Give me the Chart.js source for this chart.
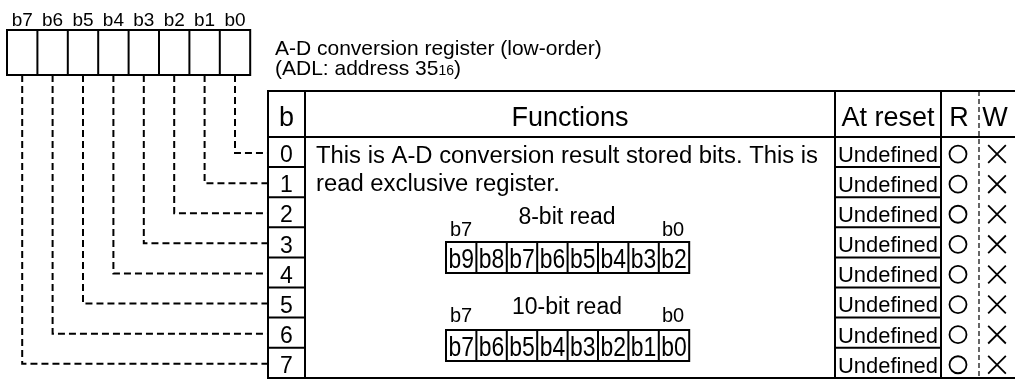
<!DOCTYPE html>
<html>
<head>
<meta charset="utf-8">
<script src="https://cdn.jsdelivr.net/npm/chart.js@4.4.0/dist/chart.umd.min.js"></script>
<style>
html, body { margin: 0; padding: 0; background: #fff; }
canvas { display: block; }
</style>
</head>
<body>
<canvas id="regChart" width="1015" height="379"></canvas>
<script>
// REGISTER DATA
const registerBits = ['b7', 'b6', 'b5', 'b4', 'b3', 'b2', 'b1', 'b0'];
const bitNumbers = [0, 1, 2, 3, 4, 5, 6, 7];
const resetValues = ['Undefined', 'Undefined', 'Undefined', 'Undefined', 'Undefined', 'Undefined', 'Undefined', 'Undefined'];
const readAccess = ['○', '○', '○', '○', '○', '○', '○', '○'];
const writeAccess = ['×', '×', '×', '×', '×', '×', '×', '×'];
const headerLabels = ['b', 'Functions', 'At reset', 'R', 'W'];
const titleLine = 'A-D conversion register (low-order)';
const addressLine = ['(ADL: address 35', '16', ')'];
const functionLines = ['This is A-D conversion result stored bits. This is', 'read exclusive register.'];
const read8Title = '8-bit read';
const read8Bits = ['b9', 'b8', 'b7', 'b6', 'b5', 'b4', 'b3', 'b2'];
const read10Title = '10-bit read';
const read10Bits = ['b7', 'b6', 'b5', 'b4', 'b3', 'b2', 'b1', 'b0'];
const readEnds = ['b7', 'b0'];

// layout (in axis units, 1 unit = 1 px)
const L = {
    regLeft: 7, regTop: 30, regBottom: 75, cellW: 30.4,
    tblLeft: 268, tblTop: 91, headBottom: 137, tblBottom: 378, rowH: 30.1, tblRight: 1015,
    colB: 305, colFunc: 835, colReset: 941, colRW: 979,
    rX: 958, wX: 997,
    boxLeft: 446, box8Top: 242, box10Top: 330, boxH: 31, boxCellW: 30.4
};
const FONT = '"Liberation Sans", Arial, sans-serif';

function rowMid(n) { return L.headBottom + L.rowH * (n + 0.5); }
function bitX(name) { return L.regLeft + L.cellW * (registerBits.indexOf(name) + 0.5); }

// dashed leaders from register cells to table rows
const leaderSets = registerBits.map(name => {
    const n = parseInt(name.slice(1));
    const x = bitX(name);
    const y = rowMid(n) + 1;
    return {
        type: 'line',
        data: [{x: x, y: L.regBottom}, {x: x, y: y}, {x: L.tblLeft, y: y}],
        borderColor: '#000',
        borderWidth: 2,
        borderDash: [7, 4],
        pointRadius: 0,
        tension: 0,
        fill: false
    };
});

function markStyle(s) { return s === '○' ? 'circle' : 'crossRot'; }

const readSet = {
    type: 'scatter',
    data: bitNumbers.map(n => ({x: L.rX, y: rowMid(n) + 2})),
    pointStyle: readAccess.map(markStyle),
    pointRadius: 8.5,
    pointBorderColor: '#000',
    pointBackgroundColor: 'rgba(0,0,0,0)',
    pointBorderWidth: 1.8
};
const writeSet = {
    type: 'scatter',
    data: bitNumbers.map(n => ({x: L.wX, y: rowMid(n) + 2})),
    pointStyle: writeAccess.map(markStyle),
    pointRadius: 12.5,
    pointBorderColor: '#000',
    pointBackgroundColor: 'rgba(0,0,0,0)',
    pointBorderWidth: 1.8
};

function drawText(ctx, str, x, yMid, size, align, sx) {
    ctx.save();
    ctx.font = size + 'px ' + FONT;
    ctx.textBaseline = 'alphabetic';
    ctx.textAlign = align || 'left';
    ctx.fillStyle = '#000';
    ctx.translate(x, yMid + size * 0.358);
    ctx.scale(sx || 1, 1);
    ctx.fillText(str, 0, 0);
    ctx.restore();
}

function fitScale(ctx, str, size, width) {
    ctx.font = size + 'px ' + FONT;
    return width / ctx.measureText(str).width;
}

// TABLE PLUGIN
const tablePlugin = {
    id: 'registerTable',
    beforeDatasetsDraw(chart) {
        const ctx = chart.ctx;
        const sx = v => chart.scales.x.getPixelForValue(v);
        const sy = v => chart.scales.y.getPixelForValue(v);
        const line = (x1, y1, x2, y2, w, dash) => {
            ctx.save();
            ctx.strokeStyle = '#000';
            ctx.lineWidth = w;
            ctx.setLineDash(dash || []);
            ctx.beginPath();
            ctx.moveTo(sx(x1), sy(y1));
            ctx.lineTo(sx(x2), sy(y2));
            ctx.stroke();
            ctx.restore();
        };
        const box = (x1, y1, x2, y2) => {
            ctx.save();
            ctx.lineWidth = 2;
            ctx.strokeStyle = '#000';
            ctx.strokeRect(sx(x1), sy(y1), sx(x2) - sx(x1), sy(y2) - sy(y1));
            ctx.restore();
        };

        // register box
        box(L.regLeft, L.regTop, L.regLeft + L.cellW * 8, L.regBottom);
        for (let i = 1; i < registerBits.length; i++) {
            const x = L.regLeft + L.cellW * i;
            line(x, L.regTop, x, L.regBottom, 2);
        }
        registerBits.forEach(name => drawText(ctx, name, sx(bitX(name)), sy(19), 19, 'center'));

        // title
        drawText(ctx, titleLine, sx(275), sy(47), 21);
        ctx.font = '21px ' + FONT;
        const w1 = ctx.measureText(addressLine[0]).width;
        drawText(ctx, addressLine[0], sx(275), sy(67), 21);
        ctx.font = '14px ' + FONT;
        const w2 = ctx.measureText(addressLine[1]).width;
        drawText(ctx, addressLine[1], sx(275) + w1, sy(70), 14);
        drawText(ctx, addressLine[2], sx(275) + w1 + w2, sy(67), 21);

        // table frame
        line(L.tblLeft - 1, L.tblTop, L.tblRight, L.tblTop, 2);
        line(L.tblLeft - 1, L.headBottom, L.tblRight, L.headBottom, 2);
        line(L.tblLeft - 1, L.tblBottom, L.tblRight, L.tblBottom, 2);
        [L.tblLeft, L.colB, L.colFunc, L.colReset].forEach(x => line(x, L.tblTop, x, L.tblBottom, 2));
        line(L.colRW, L.tblTop, L.colRW, L.tblBottom, 1.2, [5, 3]);
        for (let n = 1; n < bitNumbers.length; n++) {
            const y = L.headBottom + L.rowH * n;
            line(L.tblLeft, y, L.colB, y, 2);
            line(L.colFunc, y, L.colReset, y, 2);
        }

        // headers
        const headMid = 116;
        const headX = [(L.tblLeft + L.colB) / 2, (L.colB + L.colFunc) / 2, (L.colFunc + L.colReset) / 2, (L.colReset + L.colRW) / 2 - 1, (L.colRW + L.tblRight) / 2 - 2];
        headerLabels.forEach((h, i) => drawText(ctx, h, sx(headX[i]), sy(headMid), 27, 'center'));

        // rows
        bitNumbers.forEach(n => {
            drawText(ctx, String(n), sx((L.tblLeft + L.colB) / 2), sy(rowMid(n) + 2), 23, 'center');
            const k = fitScale(ctx, resetValues[n], 22, 100);
            drawText(ctx, resetValues[n], sx(L.colFunc + 3), sy(rowMid(n) + 2), 22, 'left', k);
        });

        // functions text
        const fk = fitScale(ctx, functionLines[0], 23, 502);
        drawText(ctx, functionLines[0], sx(316), sy(155), 23, 'left', fk);
        drawText(ctx, functionLines[1], sx(316), sy(183), 23, 'left', fk);

        // read layouts
        [[read8Title, read8Bits, L.box8Top, 216, 229], [read10Title, read10Bits, L.box10Top, 306, 315]].forEach(r => {
            const [title, bits, top, titleMid, endMid] = r;
            drawText(ctx, title, sx(567), sy(titleMid), 23, 'center');
            drawText(ctx, readEnds[0], sx(450), sy(endMid), 20);
            drawText(ctx, readEnds[1], sx(662), sy(endMid), 20);
            box(L.boxLeft, top, L.boxLeft + L.boxCellW * 8, top + L.boxH);
            bits.forEach((b, i) => {
                if (i > 0) line(L.boxLeft + L.boxCellW * i, top, L.boxLeft + L.boxCellW * i, top + L.boxH, 2);
                drawText(ctx, b, sx(L.boxLeft + L.boxCellW * (i + 0.5)), sy(top + L.boxH / 2 + 1), 27, 'center', 0.85);
            });
        });
    }
};

var ctx = document.getElementById('regChart').getContext('2d');
var regChart = new Chart(ctx, {
    type: 'scatter',
    data: {
        datasets: leaderSets.concat([readSet, writeSet])
    },
    options: {
        responsive: false,
        animation: false,
        layout: {padding: 0, autoPadding: false},
        plugins: {legend: {display: false}, tooltip: {enabled: false}},
        scales: {
            x: {type: 'linear', min: 0, max: 1015, display: false},
            y: {type: 'linear', min: 0, max: 379, reverse: true, display: false}
        }
    },
    plugins: [tablePlugin]
});
</script>
</body>
</html>
